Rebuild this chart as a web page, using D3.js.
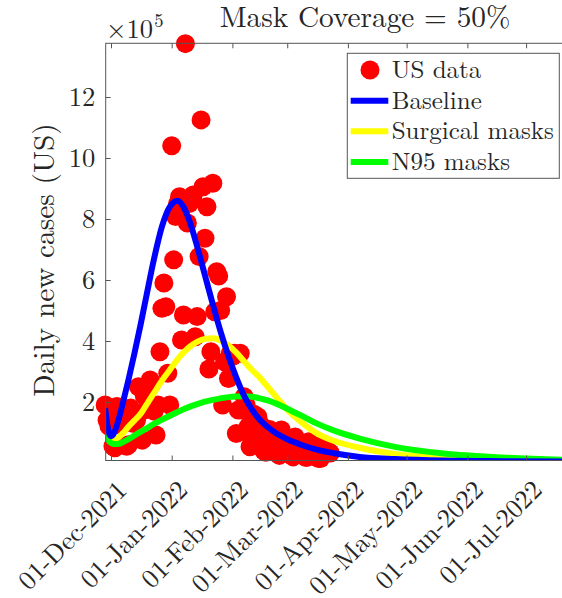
<!DOCTYPE html>
<html>
<head>
<meta charset="utf-8">
<script src="https://cdn.jsdelivr.net/npm/d3@7"></script>
<style>
  body { margin: 0; background: #fff; }
</style>
</head>
<body>
<svg id="chart" width="562" height="598"></svg>
<script>
// US daily new cases, one value per day from 28-Nov-2021 (x 1e5)
const dataStart = "2021-11-28";
const usCases = [
  1.9, 1.4, 1.2, 1.5, 0.55, 0.5, 1.85, 1.25, 1.35, 1.5, 1.6, 0.55, 0.6,
  1.8, 1.3, 1.65, 1.4, 2.5, 0.8, 0.75, 2.2, 1.75, 2.5, 2.72, 2.6, 1.7, 0.92,
  1.9, 3.65, 5.07, 5.9, 5.12, 2.94, 1.9, 10.4, 6.66, 8.08, 8.5, 8.73, 4.03, 4.85,
  13.75, 7.87, 8.51, 8.6, 8.79, 4.14, 4.8, 6.77, 11.25, 9.06, 7.37, 8.4, 3.08, 3.65,
  9.17, 4.96, 6.27, 6.13, 5.0, 1.9, 3.32, 5.45, 2.77, 3.6, 3.49, 3.6, 0.97, 1.74,
  3.6, 1.74, 2.17, 1.9, 1.19, 0.53, 0.75, 1.6, 1.19, 1.52, 1.3, 1.05, 0.4, 0.35,
  0.6, 1.1, 0.85, 0.9, 0.8, 0.3, 0.25, 1.08, 0.6, 0.65, 0.6, 0.55, 0.25, 0.2,
  0.85, 0.5, 0.45, 0.5, 0.45, 0.2, 0.18, 0.7, 0.4, 0.4, 0.42, 0.38, 0.15, 0.15,
  0.6, 0.35, 0.35, 0.38, 0.33
];

const modelDays = [-3, -2, -1, 0, 1, 2, 4, 6, 9, 12, 15, 18, 22, 26, 30, 34, 37, 40, 44, 48,
  52, 56, 60, 64, 68, 72, 76, 80, 85, 90, 97, 105, 114, 127, 145, 170, 200, 230, 260];
const baseline = [1.8, 1.3, 0.98, 0.88, 0.92, 1.05, 1.45, 1.95, 2.75, 3.6, 4.5, 5.45, 6.7, 7.75,
  8.4, 8.6, 8.4, 7.95, 7.1, 6.15, 5.2, 4.3, 3.5, 2.8, 2.2, 1.75, 1.42, 1.18, 0.95, 0.78,
  0.6, 0.44, 0.32, 0.2, 0.13, 0.08, 0.06, 0.05, 0.05];
const surgical = [1.0, 0.88, 0.8, 0.76, 0.75, 0.77, 0.85, 0.97, 1.2, 1.4, 1.6, 1.9, 2.3, 2.7,
  3.05, 3.4, 3.62, 3.8, 3.97, 4.07, 4.09, 4.02, 3.86, 3.62, 3.33, 3.05, 2.8, 2.5, 2.12, 1.75,
  1.35, 0.98, 0.72, 0.5, 0.3, 0.17, 0.11, 0.08, 0.07];
const n95 = [0.97, 0.82, 0.72, 0.66, 0.63, 0.62, 0.63, 0.68, 0.78, 0.9, 1.02, 1.13, 1.28, 1.42,
  1.55, 1.67, 1.76, 1.84, 1.93, 2.01, 2.07, 2.12, 2.16, 2.18, 2.19, 2.17, 2.12, 2.05, 1.93, 1.78,
  1.56, 1.3, 1.06, 0.8, 0.53, 0.31, 0.18, 0.11, 0.08];

const tickDates = ["2021-12-01", "2022-01-01", "2022-02-01", "2022-03-01",
  "2022-04-01", "2022-05-01", "2022-06-01", "2022-07-01"];
const yTicks = [2, 4, 6, 8, 10, 12];
const legendLabels = ["US data", "Baseline", "Surgical masks", "N95 masks"];
const lineColors = ["#0000ff", "#ffff00", "#00ff00"];

const FONT = "'Latin Modern Roman', 'Liberation Serif', serif";
const INK = "#262626";

const parse = d3.utcParse("%Y-%m-%d");
const svg = d3.select("#chart");

// plot frame (right side runs past the picture edge)
const frameL = 105.7, frameR = 620, frameT = 43.3, frameB = 460.5;

const x = d3.scaleUtc()
  .domain([parse("2021-12-01"), parse("2022-07-01")])
  .range([111, 526.1]);
const y = d3.scaleLinear().domain([0, 14]).range([463, 36]);

const day0 = parse("2021-12-01");
const dayToDate = d => d3.utcDay.offset(day0, d);

svg.append("defs").append("clipPath").attr("id", "plotclip")
  .append("rect").attr("x", frameL).attr("y", frameT)
  .attr("width", frameR - frameL).attr("height", frameB - frameT);

// data points
const start = parse(dataStart);
svg.append("g")
  .selectAll("circle")
  .data(usCases)
  .enter()
  .append("circle")
  .attr("cx", (v, i) => x(d3.utcDay.offset(start, i)))
  .attr("cy", v => y(v))
  .attr("r", 9.5)
  .attr("fill", "#ff0000");

// model curves
const line = d3.line()
  .x((v, i) => x(dayToDate(modelDays[i])))
  .y(v => y(v))
  .curve(d3.curveMonotoneX);

const curves = svg.append("g").attr("clip-path", "url(#plotclip)");
[[surgical, lineColors[1]], [n95, lineColors[2]], [baseline, lineColors[0]]].forEach(([s, c]) => {
  curves.append("path")
    .attr("d", line(s))
    .attr("fill", "none")
    .attr("stroke", c)
    .attr("stroke-width", 6)
    .attr("stroke-linejoin", "round");
});

// axes
const xTickVals = tickDates.map(parse);
const xAxis = svg.append("g")
  .attr("transform", `translate(0,${frameB})`)
  .call(d3.axisBottom(x).tickValues(xTickVals).tickSize(-5)
    .tickFormat(d3.utcFormat("%d-%b-%Y")));
xAxis.select(".domain").remove();
xAxis.selectAll("line").attr("stroke", "#555");
xAxis.selectAll("text")
  .attr("y", 0).attr("dy", 0)
  .attr("text-anchor", "end")
  .attr("transform", "translate(17,31) rotate(-45)")
  .style("font-size", "26.5px");

const xTop = svg.append("g")
  .attr("transform", `translate(0,${frameT})`)
  .call(d3.axisTop(x).tickValues(xTickVals).tickSize(-5).tickFormat(""));
xTop.select(".domain").remove();
xTop.selectAll("line").attr("stroke", "#555");

const yAxis = svg.append("g")
  .attr("transform", `translate(${frameL},0)`)
  .call(d3.axisLeft(y).tickValues(yTicks).tickSize(-5).tickPadding(10.5));
yAxis.select(".domain").remove();
yAxis.selectAll("line").attr("stroke", "#555");
yAxis.selectAll("text").style("font-size", "26.5px").attr("dy", "0.33em");

svg.append("rect")
  .attr("x", frameL).attr("y", frameT)
  .attr("width", frameR - frameL).attr("height", frameB - frameT)
  .attr("fill", "none").attr("stroke", "#555").attr("stroke-width", 1);

// exponent label
const ex = svg.append("text").attr("x", 106).attr("y", 37.5).style("font-size", "26.5px");
ex.append("tspan").text("\u00d710");
ex.append("tspan").attr("dy", -11).attr("dx", 1).style("font-size", "18.5px").text("5");

// axis label
svg.append("text")
  .attr("transform", "translate(54,260) rotate(-90)")
  .attr("text-anchor", "middle")
  .style("font-size", "29.3px")
  .text("Daily new cases (US)");

// title
svg.append("text")
  .attr("x", 365).attr("y", 27)
  .attr("text-anchor", "middle")
  .style("font-size", "29.3px")
  .text("Mask Coverage = 50%");

// legend
const lg = svg.append("g");
lg.append("rect")
  .attr("x", 347.3).attr("y", 53.3).attr("width", 212).attr("height", 125)
  .attr("fill", "#fff").attr("stroke", "#555").attr("stroke-width", 1);
const rowY = d3.scalePoint().domain(legendLabels).range([70, 162]);
lg.append("circle").attr("cx", 370).attr("cy", rowY(legendLabels[0])).attr("r", 9.5).attr("fill", "#ff0000");
legendLabels.slice(1).forEach((l, i) => {
  lg.append("line")
    .attr("x1", 350.7).attr("x2", 388.3)
    .attr("y1", rowY(l)).attr("y2", rowY(l))
    .attr("stroke", lineColors[i]).attr("stroke-width", 6);
});
lg.selectAll("text.lab")
  .data(legendLabels)
  .enter()
  .append("text")
  .attr("class", "lab")
  .attr("x", 391.7)
  .attr("y", d => rowY(d) + 8)
  .style("font-size", "25px")
  .text(d => d);

// one font for every text, set on the element itself
svg.selectAll("text").style("font-family", FONT).attr("fill", INK);
</script>
</body>
</html>
